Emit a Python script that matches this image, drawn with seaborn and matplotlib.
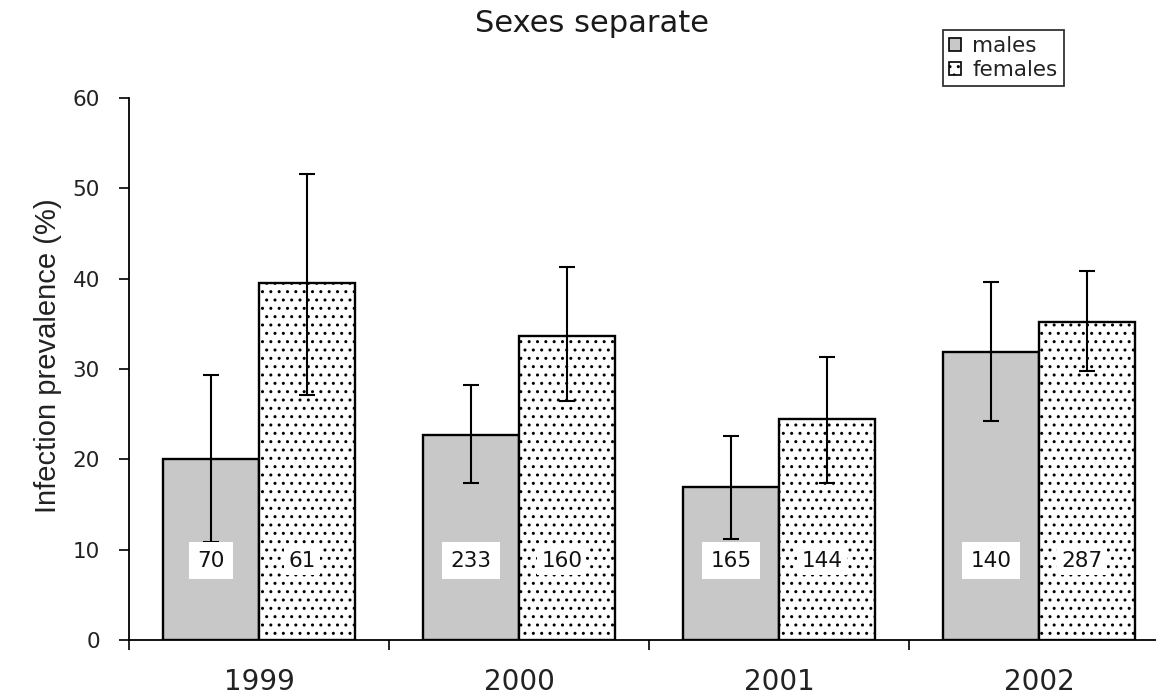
import matplotlib
matplotlib.use("Agg")
import matplotlib.pyplot as plt
from matplotlib.patches import Patch
from matplotlib.ticker import FixedLocator
import numpy as np
import pandas as pd
import seaborn as sns

# Prevalence (%) by year and sex, with confidence limits and sample sizes
years = ["1999", "2000", "2001", "2002"]
sexes = ["males", "females"]
male_prev = [20.0, 22.7, 16.9, 31.9]
male_low = [10.9, 17.4, 11.2, 24.2]
male_high = [29.3, 28.2, 22.6, 39.6]
female_prev = [39.5, 33.7, 24.5, 35.2]
female_low = [27.1, 26.5, 17.4, 29.8]
female_high = [51.6, 41.3, 31.3, 40.8]
male_n = [70, 233, 165, 140]
female_n = [61, 160, 144, 287]

df = pd.DataFrame({
    "year": years * 2,
    "sex": ["males"] * 4 + ["females"] * 4,
    "prevalence": male_prev + female_prev,
})

sns.set_style("ticks")
plt.rcParams["font.family"] = ["DejaVu Sans"]
plt.rcParams["hatch.linewidth"] = 1.0

TEXT = "#222222"

fig = plt.figure(figsize=(11.56, 6.94), dpi=100)
ax = fig.add_axes([129 / 1156, 1 - 640 / 694, 1 - 129 / 1156, (640 - 98) / 694])

sns.barplot(
    data=df, x="year", y="prevalence", hue="sex", order=years, hue_order=sexes,
    palette={"males": "#c8c8c8", "females": "white"},
    edgecolor="black", linewidth=1.7, width=0.74, errorbar=None,
    legend=False, ax=ax, saturation=1,
)

lows = {"males": male_low, "females": female_low}
highs = {"males": male_high, "females": female_high}
prevs = {"males": male_prev, "females": female_prev}
counts = {"males": male_n, "females": female_n}

for cont, sex in zip(ax.containers, sexes):
    xs = np.array([b.get_x() + b.get_width() / 2 for b in cont])
    y = np.array(prevs[sex])
    lo = np.array(lows[sex])
    hi = np.array(highs[sex])
    if sex == "females":
        for b in cont:
            b.set_hatch("..")
    ax.errorbar(xs, y, yerr=[y - lo, hi - y], fmt="none", ecolor="black",
                elinewidth=1.5, capsize=6, capthick=1.5, zorder=5)
    dx = 0.0 if sex == "males" else -0.02
    for xc, n in zip(xs, counts[sex]):
        ax.text(xc + dx, 8.8, str(n), ha="center", va="center", fontsize=15.5,
                color="#111111", zorder=6,
                bbox=dict(facecolor="white", edgecolor="none",
                          pad=6 if sex == "males" else 3))

ax.set_ylim(0, 60)
ax.set_xlim(-0.5, -0.5 + (1156 - 129) / 260)
ax.set_yticks(range(0, 61, 10))
ax.tick_params(axis="y", direction="out", length=7, width=1.2, labelsize=15.5,
               colors="black", labelcolor=TEXT, pad=14)
ax.tick_params(axis="x", which="major", length=0, labelsize=20, pad=20,
               labelcolor=TEXT)
ax.xaxis.set_minor_locator(FixedLocator([-0.5, 0.5, 1.5, 2.5, 3.5]))
ax.tick_params(axis="x", which="minor", direction="out", length=7, width=1.2,
               colors="black")
ax.set_xlabel("")
ax.set_ylabel("Infection prevalence (%)", fontsize=21, family="Liberation Sans",
              color=TEXT)
ax.yaxis.set_label_coords((62 - 129) / 1027, 0.525)
for s in ["top", "right"]:
    ax.spines[s].set_visible(False)
for s in ["left", "bottom"]:
    ax.spines[s].set_color("black")
    ax.spines[s].set_linewidth(1.3)

fig.text(592 / 1156, 1 - 23 / 694, "Sexes separate", ha="center", va="center",
         fontsize=22, color="#1a1a1a")

handles = [
    Patch(facecolor="#c8c8c8", edgecolor="black", linewidth=1.2, label="males"),
    Patch(facecolor="white", edgecolor="black", linewidth=1.2, hatch="..",
          label="females"),
]
leg = fig.legend(handles=handles, loc="upper left",
                 bbox_to_anchor=(943 / 1156, 1 - 30 / 694), fontsize=15.5,
                 frameon=True, fancybox=False, edgecolor="black",
                 handlelength=0.55, handleheight=0.55, handletextpad=0.5,
                 borderpad=0.3, labelspacing=0.15, borderaxespad=0)
leg.get_frame().set_linewidth(1.3)
for t in leg.get_texts():
    t.set_color(TEXT)

fig.savefig("out.png", dpi=100)
